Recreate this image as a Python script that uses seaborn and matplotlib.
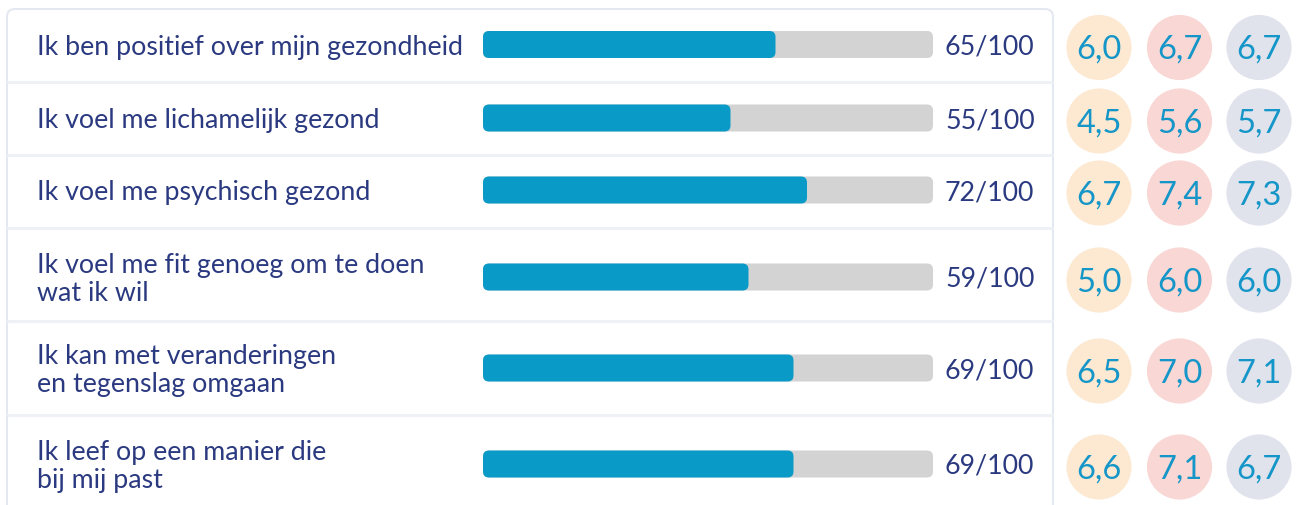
import matplotlib.pyplot as plt
import matplotlib.patches as mpatches
import pandas as pd
import seaborn as sns

# Data
statements = [
    "Ik ben positief over mijn gezondheid",
    "Ik voel me lichamelijk gezond",
    "Ik voel me psychisch gezond",
    "Ik voel me fit genoeg om te doen\nwat ik wil",
    "Ik kan met veranderingen\nen tegenslag omgaan",
    "Ik leef op een manier die\nbij mij past",
]
scores = [65, 55, 72, 59, 69, 69]
max_score = 100
group_a = [6.0, 4.5, 6.7, 5.0, 6.5, 6.6]
group_b = [6.7, 5.6, 7.4, 6.0, 7.0, 7.1]
group_c = [6.7, 5.7, 7.3, 6.0, 7.1, 6.7]

# Layout (pixels)
W, H = 1296, 506
row_edges = [10, 83, 156, 229, 322, 416, 514]
row_y = [45.5, 119, 191, 278, 369, 465]
circle_x = [1099, 1179.5, 1259]
circle_dy = 3
bar_left, bar_width, bar_h = 483, 450, 27

NAVY = "#2b3a80"
BLUE = "#0a9ac7"
TRACK = "#d3d3d3"
CIRCLE_COLORS = ["#fde9d2", "#f9d7d4", "#e0e2ec"]
FONT = "Lato"


def rounded(ax, color, radius_px, px_per_unit):
    # swap seaborn's rectangles for rounded boxes of fixed pixel height
    for p in list(ax.patches):
        if isinstance(p, mpatches.FancyBboxPatch):
            continue
        x, y = p.get_x(), p.get_y()
        w, h = p.get_width(), p.get_height()
        yc = y + h / 2
        p.remove()
        ax.add_patch(mpatches.FancyBboxPatch(
            (x, yc - bar_h / 2), w, bar_h,
            boxstyle=f"round,pad=0,rounding_size={radius_px / px_per_unit}",
            mutation_aspect=px_per_unit, facecolor=color, edgecolor="none"))


def main():
    sns.set_theme(style="white")
    plt.rcParams["font.family"] = [FONT, "DejaVu Sans"]

    fig = plt.figure(figsize=(W / 100, H / 100), dpi=100)
    ax = fig.add_axes([0, 0, 1, 1])

    # card + row separators
    ax.add_patch(mpatches.FancyBboxPatch(
        (7, row_edges[0]), 1046, row_edges[-1] - row_edges[0],
        boxstyle="round,pad=0,rounding_size=8",
        facecolor="white", edgecolor="#e4e8f0", lw=1.5, zorder=0))
    for y in row_edges[1:-1]:
        ax.plot([8, 1052], [y, y], color="#eef1f6", lw=2.2, zorder=1)

    # statement labels and score labels
    for label, score, y in zip(statements, scores, row_y):
        ax.text(37, y + 1.5, label, ha="left", va="center", fontsize=19.3,
                color=NAVY, linespacing=1.12)
        ax.text(945, y + 1.5, f"{score}/{max_score}", ha="left", va="center",
                fontsize=19.3, color=NAVY)

    # circles with group scores
    df = pd.DataFrame({
        "x": [cx for cx in circle_x for _ in row_y],
        "y": [y + circle_dy for _ in circle_x for y in row_y],
        "group": [g for g in ["a", "b", "c"] for _ in row_y],
        "value": group_a + group_b + group_c,
    })
    sns.scatterplot(data=df, x="x", y="y", hue="group", palette=CIRCLE_COLORS,
                    s=2200, linewidth=0, legend=False, ax=ax, zorder=2)
    for _, r in df.iterrows():
        ax.text(r["x"], r["y"] + 1.5, f"{r['value']:.1f}".replace(".", ","),
                ha="center", va="center", fontsize=23.5, color="#1596c8", zorder=3)
    ax.set_xlim(0, W)
    ax.set_ylim(H, 0)
    ax.axis("off")

    # progress bars
    ppu = bar_width / max_score
    bax = fig.add_axes([bar_left / W, 0, bar_width / W, 1])
    sns.barplot(x=[max_score] * len(row_y), y=row_y, orient="h", native_scale=True,
                color=TRACK, saturation=1, ax=bax)
    rounded(bax, TRACK, 6, ppu)
    sns.barplot(x=scores, y=row_y, orient="h", native_scale=True,
                color=BLUE, saturation=1, ax=bax)
    rounded(bax, BLUE, 6, ppu)
    bax.set_xlim(0, max_score)
    bax.set_ylim(H, 0)
    bax.axis("off")

    fig.savefig("out.png", dpi=100)


if __name__ == "__main__":
    main()
